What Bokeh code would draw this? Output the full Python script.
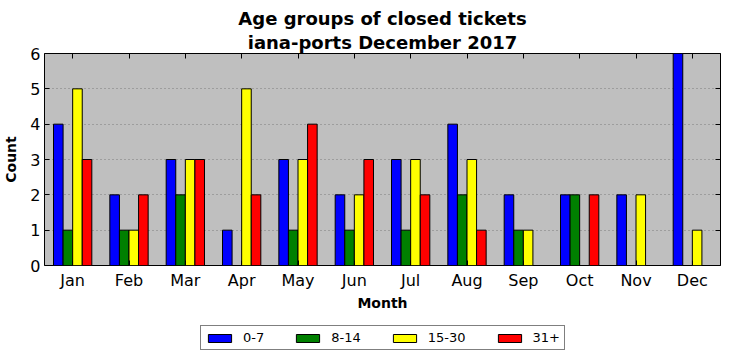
from bokeh.plotting import figure
from bokeh.models import (FactorRange, Range1d, CategoricalAxis, LinearAxis, Legend, LegendItem,
                          Title, ColumnDataSource, FixedTicker)
from bokeh.layouts import column
from bokeh.transform import dodge
from bokeh.embed import file_html
from bokeh.resources import INLINE

months = ["Jan", "Feb", "Mar", "Apr", "May", "Jun", "Jul", "Aug", "Sep", "Oct", "Nov", "Dec"]
age_0_7 = [4, 2, 3, 1, 3, 2, 3, 4, 2, 2, 2, 6]
age_8_14 = [1, 1, 2, 0, 1, 1, 1, 2, 1, 2, 0, 0]
age_15_30 = [5, 1, 3, 5, 3, 2, 3, 3, 1, 0, 2, 1]
age_31p = [3, 2, 3, 2, 4, 3, 2, 1, 0, 2, 0, 0]
series_names = ["0-7", "8-14", "15-30", "31+"]
series_colors = ["#0000ff", "#008000", "#ffff00", "#ff0000"]
y_ticks = [0, 1, 2, 3, 4, 5, 6]

src = ColumnDataSource(dict(month=months, a=age_0_7, b=age_8_14, c=age_15_30, d=age_31p))

FONT = "DejaVu Sans"
p = figure(frame_width=676, frame_height=212, x_range=FactorRange(*months), y_range=Range1d(0, 6),
           output_backend="svg", toolbar_location=None,
           min_border_left=38, min_border_right=2, min_border_top=0, min_border_bottom=52)
p.background_fill_color = "#bfbfbf"
p.border_fill_color = "white"
p.outline_line_color = "black"
p.outline_line_width = 1
p.x_range.range_padding = 0

w = 0.17
offsets = [-1.5 * w, -0.5 * w, 0.5 * w, 1.5 * w]
for key, col, off in zip(["a", "b", "c", "d"], series_colors, offsets):
    p.vbar(x=dodge("month", off, range=p.x_range), top=key, width=w, source=src,
           fill_color=col, line_color="black", line_width=1)

p.title = None

for ax in [p.xaxis[0], p.yaxis[0]]:
    ax.major_label_text_font = FONT
    ax.major_label_text_font_size = "16px"
    ax.major_label_text_color = "black"
    ax.axis_label_text_font = FONT
    ax.axis_label_text_font_style = "bold"
    ax.axis_label_text_font_size = "14px"
    ax.axis_label_text_color = "black"
    ax.major_tick_in = 5
    ax.major_tick_out = 0
    ax.minor_tick_line_color = None
    ax.major_tick_line_color = "black"
    ax.axis_line_color = None

p.xaxis[0].axis_label = "Month"
p.xaxis[0].major_label_standoff = 5
p.xaxis[0].axis_label_standoff = 2
p.yaxis[0].axis_label = "Count"
p.yaxis[0].ticker = FixedTicker(ticks=y_ticks)
p.yaxis[0].major_label_standoff = 4
p.yaxis[0].axis_label_standoff = 8

top = CategoricalAxis(major_label_text_color=None, major_tick_in=5, major_tick_out=0,
                      axis_line_color=None, major_tick_line_color="black",
                      minor_tick_line_color=None, major_label_text_font_size="1px",
                      major_label_standoff=0)
p.add_layout(top, "above")
right = LinearAxis(ticker=FixedTicker(ticks=y_ticks), major_label_text_color=None,
                   major_tick_in=5, major_tick_out=0, axis_line_color=None,
                   major_tick_line_color="black", minor_tick_line_color=None,
                   major_label_text_font_size="1px", major_label_standoff=0)
p.add_layout(right, "right")

# title (two lines)
p.add_layout(Title(text="iana-ports December 2017", align="center", text_font=FONT,
                   text_font_size="18px", text_font_style="bold", text_color="black",
                   standoff=2), "above")
p.add_layout(Title(text="Age groups of closed tickets", align="center", text_font=FONT,
                   text_font_size="18px", text_font_style="bold", text_color="black",
                   standoff=0), "above")
p.add_layout(Title(text=" ", text_font_size="3px", standoff=0), "above")

p.xgrid.grid_line_color = None
p.ygrid.grid_line_color = "#7a7a7a"
p.ygrid.grid_line_dash = "1 3"
p.ygrid.grid_line_width = 1

# legend in a strip below (its frame is aligned with the main plot's frame)
lf = figure(width=716, height=36, x_range=Range1d(0, 1), y_range=Range1d(0, 1),
            output_backend="svg", toolbar_location=None, x_axis_location=None,
            y_axis_location=None, min_border_left=0, min_border_right=0,
            min_border_top=0, min_border_bottom=0, sizing_mode="fixed")
lf.outline_line_color = None
lf.grid.grid_line_color = None
lf.title = None
hidden = ColumnDataSource(dict(x=[5], top=[0]))
items = []
for name, col in zip(series_names, series_colors):
    r = lf.vbar(x="x", top="top", width=0.1, source=hidden, fill_color=col,
                line_color="black", line_width=1)
    items.append(LegendItem(label=name, renderers=[r]))
legend = Legend(items=items, orientation="horizontal", location=(156, 3),
                label_text_font=FONT, label_text_font_size="13px", label_text_color="black",
                glyph_width=29, glyph_height=10, label_height=14, spacing=29, padding=4, margin=0,
                label_standoff=9, border_line_color="black", border_line_width=1,
                background_fill_alpha=1)
lf.add_layout(legend, "center")

layout = column(p, lf, spacing=0)
open("out.html", "w").write(file_html(layout, INLINE))
